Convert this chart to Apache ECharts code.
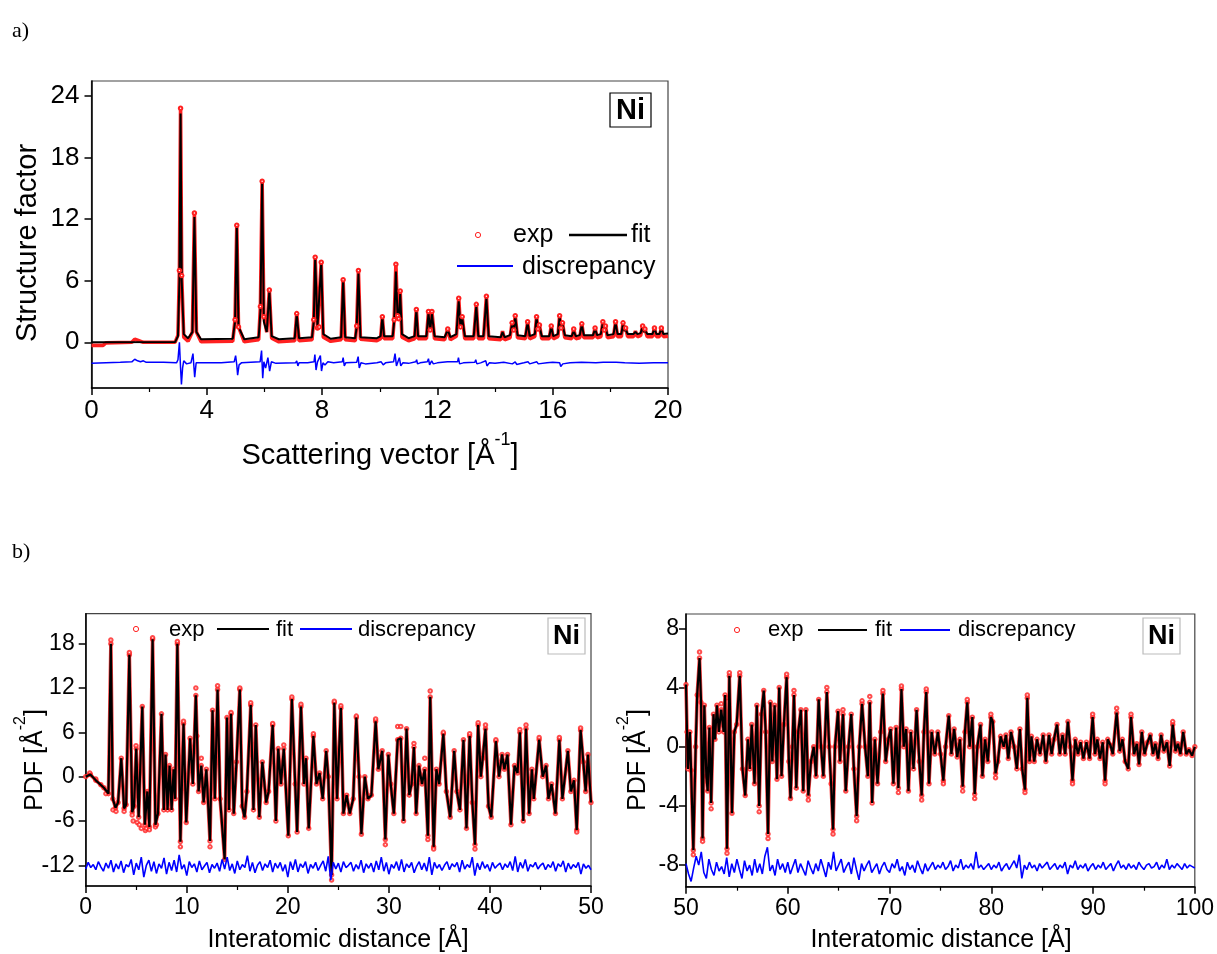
<!DOCTYPE html>
<html><head><meta charset="utf-8">
<script src="https://cdn.jsdelivr.net/npm/echarts@6/dist/echarts.min.js"></script>
<style>html,body{margin:0;padding:0;background:#fff}#c{width:1217px;height:954px}</style>
</head><body><div id="c"></div>
<script>
const FONT = "'Liberation Sans', Arial, sans-serif";

// ---------- Panel a: structure factor ----------
const sqTicksX = [0, 20, 4];
const sqTicksY = [0, 6, 12, 18, 24];
const sqFit = [[0,0],[2.9,0.02],[3.0,0.6],[3.05,6],[3.09,22.3],[3.13,6],[3.2,0.8],[3.35,0.4],[3.5,1.0],[3.57,12.2],[3.64,1.0],[3.8,0.3],[4.9,0.35],[4.98,2],[5.04,11.5],[5.1,1.5],[5.3,0.3],[5.8,0.5],[5.86,3],[5.92,15.8],[5.98,2],[6.08,1],[6.17,5.0],[6.25,0.6],[6.5,0.3],[7.05,0.4],[7.12,2.7],[7.2,0.4],[7.65,0.5],[7.71,2],[7.76,8.2],[7.84,1.5],[7.9,1.5],[7.97,7.7],[8.04,0.8],[8.3,0.35],[8.66,0.5],[8.73,6.0],[8.8,0.5],[9.15,0.4],[9.2,1.5],[9.26,6.7],[9.33,0.5],[9.9,0.4],[10.03,0.6],[10.09,2.4],[10.15,0.6],[10.45,0.6],[10.5,2],[10.56,6.9],[10.62,2.5],[10.66,2.2],[10.71,4.7],[10.77,0.8],[11.0,0.4],[11.21,0.6],[11.27,3.1],[11.33,0.6],[11.62,0.6],[11.69,2.8],[11.75,1.2],[11.81,2.75],[11.9,0.6],[12.25,0.5],[12.36,1.2],[12.45,0.5],[12.66,0.8],[12.74,4.0],[12.8,1.5],[12.86,2.4],[12.95,0.6],[13.26,0.6],[13.35,3.5],[13.42,0.6],[13.6,0.6],[13.7,4.3],[13.78,0.6],[14.2,0.5],[14.26,1.0],[14.33,0.5],[14.52,0.7],[14.59,1.8],[14.65,1.2],[14.7,2.5],[14.78,0.7],[15.05,0.6],[15.13,1.9],[15.2,0.6],[15.38,0.8],[15.44,2.4],[15.49,1.3],[15.54,1.6],[15.62,0.6],[15.88,0.6],[15.95,1.5],[16.02,0.6],[16.18,0.8],[16.24,2.5],[16.29,1.4],[16.34,1.8],[16.42,0.7],[16.66,0.6],[16.73,1.1],[16.8,0.6],[16.94,0.7],[17.01,1.7],[17.08,0.7],[17.4,0.7],[17.47,1.3],[17.54,0.7],[17.67,0.8],[17.74,1.9],[17.79,1.2],[17.83,1.5],[17.9,0.7],[18.11,0.8],[18.18,1.9],[18.25,0.8],[18.38,0.8],[18.44,1.8],[18.49,1.1],[18.53,1.3],[18.6,0.8],[18.8,0.8],[18.87,1.0],[18.94,0.8],[19.05,0.9],[19.12,1.55],[19.16,1.0],[19.2,1.2],[19.28,0.8],[19.46,0.8],[19.53,1.35],[19.6,0.8],[19.7,0.8],[19.77,1.35],[19.84,0.8],[20,0.85]];
const sqExp = [[0,-0.3],[0.4,-0.3],[0.5,-0.05],[1.4,0.0],[1.5,0.3],[1.6,0.2],[1.8,0.0],[2.9,0.0],[3.0,0.7],[3.05,7],[3.09,22.8],[3.13,6.5],[3.2,0.5],[3.35,0.1],[3.5,1.0],[3.57,12.6],[3.64,1.0],[3.8,0.05],[4.9,0.1],[4.98,2.2],[5.04,11.4],[5.1,1.5],[5.3,0.05],[5.8,0.25],[5.86,3.5],[5.92,15.7],[5.98,2.5],[6.08,1.0],[6.17,5.1],[6.25,0.4],[6.5,0.05],[7.05,0.15],[7.12,2.8],[7.2,0.15],[7.65,0.25],[7.71,2.2],[7.76,8.3],[7.84,1.4],[7.9,1.5],[7.97,7.8],[8.04,0.5],[8.3,0.1],[8.66,0.25],[8.73,6.1],[8.8,0.25],[9.15,0.15],[9.2,1.6],[9.26,7.0],[9.33,0.3],[9.9,0.15],[10.03,0.35],[10.09,2.5],[10.15,0.35],[10.45,0.35],[10.5,2.2],[10.56,7.6],[10.62,2.6],[10.66,2.3],[10.71,5.0],[10.77,0.5],[11.0,0.15],[11.21,0.35],[11.27,3.2],[11.33,0.35],[11.62,0.35],[11.69,3.0],[11.75,1.2],[11.81,3.0],[11.9,0.35],[12.25,0.25],[12.36,1.3],[12.45,0.25],[12.66,0.6],[12.74,4.3],[12.8,1.5],[12.86,2.5],[12.95,0.35],[13.26,0.35],[13.35,3.7],[13.42,0.35],[13.6,0.35],[13.7,4.5],[13.78,0.35],[14.2,0.25],[14.26,1.1],[14.33,0.25],[14.52,0.45],[14.59,1.9],[14.65,1.2],[14.7,2.6],[14.78,0.45],[15.05,0.35],[15.13,2.0],[15.2,0.35],[15.38,0.55],[15.44,2.5],[15.49,1.3],[15.54,1.7],[15.62,0.35],[15.88,0.35],[15.95,1.6],[16.02,0.35],[16.18,0.55],[16.24,2.6],[16.29,1.4],[16.34,1.9],[16.42,0.45],[16.66,0.35],[16.73,1.3],[16.8,0.35],[16.94,0.45],[17.01,1.8],[17.08,0.45],[17.4,0.45],[17.47,1.4],[17.54,0.45],[17.67,0.55],[17.74,2.0],[17.79,1.2],[17.83,1.6],[17.9,0.45],[18.11,0.55],[18.18,2.0],[18.25,0.55],[18.38,0.55],[18.44,1.9],[18.49,1.1],[18.53,1.4],[18.6,0.55],[18.8,0.55],[18.87,1.1],[18.94,0.55],[19.05,0.65],[19.12,1.6],[19.16,1.0],[19.2,1.3],[19.28,0.55],[19.46,0.55],[19.53,1.4],[19.6,0.55],[19.7,0.55],[19.77,1.4],[19.84,0.55],[20,0.6]];
const sqDisc = [[0,-2.05],[0.5,-2.0],[1.0,-1.95],[1.4,-1.9],[1.5,-1.65],[1.6,-1.8],[1.7,-1.9],[1.8,-1.8],[1.9,-1.95],[2.5,-1.95],[2.95,-2.0],[3.0,-1.7],[3.05,0],[3.09,-2.5],[3.12,-4.1],[3.16,-2.5],[3.2,-1.8],[3.3,-2.1],[3.45,-2.0],[3.52,-1.1],[3.58,-3.4],[3.63,-2.0],[3.8,-2.0],[4.5,-2.0],[4.95,-1.9],[5.0,-1.3],[5.04,-2.2],[5.07,-3.2],[5.12,-2.2],[5.2,-2.0],[5.85,-1.9],[5.9,-0.8],[5.94,-3.5],[5.98,-1.9],[6.04,-2.5],[6.12,-1.5],[6.18,-2.8],[6.24,-1.9],[6.4,-2.05],[7.08,-2.0],[7.12,-1.8],[7.16,-2.3],[7.2,-2.0],[7.5,-2.0],[7.72,-1.9],[7.75,-1.2],[7.79,-2.7],[7.84,-1.9],[7.94,-1.3],[7.98,-2.8],[8.03,-2.0],[8.1,-2.2],[8.2,-1.9],[8.4,-2.0],[8.7,-1.9],[8.73,-1.5],[8.77,-2.3],[8.82,-2.0],[9.2,-1.95],[9.25,-1.4],[9.29,-2.5],[9.35,-2.0],[9.5,-2.1],[9.9,-2.0],[10.05,-1.9],[10.08,-1.8],[10.12,-2.2],[10.2,-2.0],[10.48,-1.9],[10.53,-1.1],[10.58,-2.3],[10.63,-1.9],[10.68,-1.5],[10.73,-2.3],[10.8,-2.0],[11.0,-2.05],[11.25,-1.9],[11.28,-1.7],[11.31,-2.1],[11.4,-2.0],[11.65,-1.9],[11.69,-1.6],[11.73,-2.2],[11.8,-1.8],[11.86,-2.1],[12.0,-2.0],[12.35,-1.9],[12.4,-2.05],[12.7,-1.9],[12.73,-1.5],[12.77,-2.1],[12.9,-2.0],[13.3,-1.95],[13.33,-1.7],[13.37,-2.1],[13.5,-2.0],[13.68,-1.8],[13.72,-2.3],[13.8,-2.0],[14.0,-2.05],[14.3,-1.95],[14.6,-2.1],[14.7,-1.9],[14.75,-2.15],[15.0,-2.0],[15.15,-1.9],[15.2,-2.1],[15.45,-1.9],[15.5,-2.1],[15.8,-2.0],[16.0,-1.95],[16.24,-2.0],[16.28,-2.35],[16.35,-2.1],[16.6,-2.0],[17.0,-1.95],[17.05,-2.1],[17.5,-2.0],[17.75,-1.95],[17.8,-2.1],[18.2,-1.95],[18.25,-2.1],[18.5,-2.0],[19.0,-2.05],[19.5,-2.0],[20,-2.0]];

// ---------- Panel b (left): PDF 0-50 ----------
const pdfLTicksY = [-12, -6, 0, 6, 12, 18];
const pdfLFit = [[0,0],[0.46,0.3],[1.0,-0.5],[1.8,-1.5],[2.25,-2.3],[2.49,18],[2.68,-3],[2.95,-4.2],[3.2,-3.5],[3.52,2.5],[3.8,-4.3],[4.0,-3.8],[4.32,16.5],[4.6,-4.8],[4.78,-4],[5.0,3.8],[5.24,-5.5],[5.6,9.5],[5.85,-6.5],[6.1,-2],[6.3,-6.8],[6.62,18.6],[6.9,-6.5],[7.15,-5],[7.5,8.5],[7.73,-4.5],[7.9,3],[8.1,-4.5],[8.3,1.5],[8.5,-4.5],[8.7,1],[8.85,-3],[9.07,18],[9.37,-8.8],[9.68,7.2],[9.95,-6.2],[10.33,5.2],[10.6,-1],[10.9,11],[11.17,-2],[11.44,1.5],[11.67,-3.5],[11.94,1],[12.3,-8.7],[12.55,9],[12.78,-3],[13.05,11.8],[13.3,-3],[13.75,-11.2],[13.98,8],[14.18,-4.5],[14.38,8.5],[14.65,-5],[14.92,2],[15.25,11.8],[15.49,-4],[15.72,-5.5],[15.95,-2],[16.33,9.7],[16.6,-4.5],[16.83,7],[17.18,-5.5],[17.48,2],[17.86,-3.5],[18.1,-2],[18.5,7],[18.82,-6],[19.05,3.8],[19.32,-1],[19.6,3.8],[20.05,-8],[20.4,10.5],[20.73,-1],[20.92,-7.5],[21.3,9.5],[21.6,-1],[21.8,2.5],[22.07,-7],[22.53,5.5],[22.84,-1],[23.14,0.5],[23.45,-3],[23.8,3.5],[24.0,0],[24.33,-13.3],[24.6,10],[24.87,-3],[25.25,9.3],[25.5,-5],[25.82,-2.5],[26.13,-5],[26.47,-3],[26.78,8],[27.05,0],[27.28,-7.8],[27.62,0],[27.93,-3],[28.27,-2.5],[28.69,7.5],[28.96,1],[29.34,3.5],[29.65,-8.5],[29.95,3],[30.18,-1],[30.49,-5],[30.87,5],[31.18,5.2],[31.45,-6],[31.75,6.5],[32.02,-2.5],[32.25,-1],[32.48,4],[32.7,-5],[32.98,1.5],[33.28,-1],[33.55,1],[33.86,-8],[34.09,10.8],[34.43,-9.5],[34.7,1],[34.97,-1],[35.39,5.8],[35.69,-2],[36.07,-5.5],[36.46,3.5],[36.73,-2],[37.03,-4.5],[37.38,5],[37.68,-7],[37.99,5.5],[38.26,-3.5],[38.52,-9.2],[38.83,7],[39.1,0],[39.29,2.5],[39.56,6.5],[39.86,-4],[40.13,-5.5],[40.59,4.8],[40.9,0],[41.2,3],[41.43,1],[41.74,3],[42.08,-6.5],[42.43,1.5],[42.73,0.5],[42.96,6],[43.3,-6],[43.57,6.5],[43.88,-5],[44.15,1],[44.34,-3],[44.87,5],[45.22,0],[45.56,1.5],[45.79,-3],[46.1,-1],[46.48,-5],[46.87,5],[47.17,-3],[47.71,3.5],[48.01,-2],[48.32,-0.5],[48.59,-7.2],[48.97,6.3],[49.24,2],[49.47,-2],[49.7,3],[50,-3.5]];
const pdfLExpExtra = [[0.4,0.5],[1.0,-0.3],[1.5,-1.1],[2.0,-2.3],[2.49,18.5],[2.7,-4.5],[3.0,-4.7],[3.8,-4.7],[4.32,16.8],[4.6,-5.2],[4.7,-6],[4.98,4.2],[5.1,-6.2],[5.3,-6.5],[5.5,-7],[5.9,-7.3],[6.0,-7],[6.3,-7.2],[6.62,18.8],[6.9,-6.8],[7.0,-6.5],[9.07,18.3],[9.37,-9.5],[9.68,7.5],[10.9,12],[11.0,5.5],[11.44,2.5],[12.3,-9.5],[13.05,12.3],[14.38,8.7],[15.25,12],[16.33,10],[18.5,7.2],[19.6,4.3],[20.4,10.8],[21.3,9.8],[22.53,5.8],[24.33,-14],[24.6,10.2],[25.25,9.6],[26.78,8.2],[28.69,7.8],[29.65,-9.2],[30.87,6.8],[31.18,6.8],[32.48,4.5],[33.55,2.5],[33.86,-8.5],[34.09,11.6],[34.43,-9.8],[35.39,6],[37.99,5.8],[38.52,-9.8],[38.83,7.3],[39.56,7],[40.59,5],[42.96,6.4],[43.57,7],[44.87,5.3],[46.87,5.3],[48.59,-7.5],[48.97,6.6]];
const pdfLDiscStart = 0, pdfLDiscStep = 0.25;
const pdfLDisc = [-12.5,-11.6,-12.3,-11.9,-12.6,-11.5,-12.2,-12.8,-11.7,-12.4,-11.3,-12.9,-11.8,-12.5,-11.4,-13.0,-11.9,-12.2,-11.2,-13.3,
-11.7,-12.6,-10.9,-13.6,-12.0,-11.3,-12.8,-11.5,-13.1,-11.8,-12.4,-11.0,-13.2,-11.6,-12.7,-11.3,-12.9,-10.6,-12.5,-11.9,
-13.4,-11.5,-12.3,-11.8,-12.9,-11.4,-12.6,-12.1,-11.6,-13.0,-11.9,-12.4,-11.7,-12.8,-11.2,-12.5,-10.9,-12.7,-11.8,-13.1,
-11.4,-12.6,-11.9,-12.3,-10.7,-12.8,-11.6,-13.0,-12.0,-11.5,-12.7,-11.8,-12.3,-11.3,-12.9,-11.7,-12.4,-11.6,-12.8,-11.9,
-13.6,-11.5,-12.6,-11.2,-12.9,-11.8,-12.3,-11.5,-13.1,-11.9,-12.4,-11.6,-12.7,-12.0,-11.4,-12.8,-10.8,-14.0,-11.6,-12.5,
-11.7,-12.9,-11.5,-12.3,-12.0,-11.6,-12.8,-11.9,-12.5,-11.3,-13.0,-11.8,-12.4,-11.7,-12.9,-11.4,-12.6,-10.9,-12.8,-11.6,
-13.2,-11.9,-12.4,-11.5,-12.7,-11.2,-12.9,-11.8,-12.3,-11.6,-13.0,-12.1,-11.5,-12.6,-11.7,-12.8,-10.9,-13.3,-11.6,-12.4,
-11.9,-12.7,-12.0,-11.5,-12.6,-11.8,-12.2,-11.6,-12.9,-11.3,-12.5,-11.9,-12.3,-10.9,-13.4,-11.7,-12.6,-11.5,-12.4,-11.9,
-12.8,-11.6,-12.4,-12.0,-11.7,-12.6,-11.8,-12.3,-11.5,-12.7,-10.8,-12.9,-11.6,-12.4,-11.2,-12.8,-11.9,-12.2,-11.6,-12.5,
-12.0,-11.7,-12.6,-11.9,-12.3,-11.5,-12.8,-11.8,-12.2,-11.4,-12.9,-11.7,-12.5,-11.9,-12.3,-11.6,-13.2,-11.8,-12.4,-12.0,
-12.6];

// ---------- Panel b (right): PDF 50-100 ----------
const pdfRTicksY = [-8, -4, 0, 4, 8];
const pdfRFit = [[50,4.2],[50.1,1],[50.2,-1.5],[50.38,1],[50.5,-1.6],[50.72,-7],[50.95,0],[51.1,3.5],[51.33,6],[51.48,3],[51.63,-6.2],[51.8,2.8],[52.0,-2],[52.13,-3],[52.3,1.3],[52.47,-3.8],[52.7,2.2],[52.85,0.5],[53.04,2.8],[53.23,1],[53.46,2.5],[53.7,1],[53.84,3.5],[54.03,-6.9],[54.26,4.8],[54.52,-4.5],[54.75,1],[54.98,1.5],[55.28,4.8],[55.55,-1.5],[55.82,-3.3],[56.08,0.5],[56.27,-1.5],[56.46,1.5],[56.73,-2.5],[56.96,2.8],[57.19,-4],[57.42,2.2],[57.64,3.8],[57.83,1],[58.06,-5.9],[58.29,3],[58.48,-1],[58.71,2.8],[58.94,-2.2],[59.16,4],[59.39,-2],[59.62,1.5],[59.89,4.7],[60.11,-1],[60.27,-3.5],[60.46,0],[60.61,3.5],[60.84,-2.8],[61.03,1],[61.29,2.5],[61.52,-3],[61.79,2.5],[62.02,-3.3],[62.28,-1],[62.55,0],[62.78,-2],[63.04,3.2],[63.27,0],[63.5,-2],[63.84,3.7],[64.07,0],[64.26,-2.5],[64.45,-5.6],[64.64,0],[64.94,2.4],[65.13,-1],[65.43,2.2],[65.7,-3],[65.97,0],[66.24,2.2],[66.5,-1.5],[66.77,-4.7],[67.03,0],[67.3,2.9],[67.6,0],[67.87,-2],[68.06,3],[68.29,-3.8],[68.56,0.5],[68.82,-2.5],[69.13,1],[69.35,3.6],[69.62,-1],[69.89,0.5],[70.11,1.2],[70.38,-2.5],[70.65,1.3],[70.87,-2.8],[71.17,3.9],[71.4,0],[71.63,1.2],[71.86,-3],[72.09,1],[72.36,-1.5],[72.66,2.5],[72.93,-1],[73.16,-3.3],[73.38,1],[73.61,3.7],[73.88,-2.5],[74.14,1],[74.45,-0.5],[74.75,1],[75.02,-0.5],[75.29,-2.3],[75.51,0],[75.82,2.1],[76.08,-0.5],[76.35,1.2],[76.65,-0.7],[76.92,0.5],[77.19,-2.7],[77.41,1],[77.64,3],[77.87,0],[78.14,2],[78.37,-3.2],[78.63,0],[78.94,1.5],[79.13,-2],[79.39,0.5],[79.66,-1],[79.96,2],[80.15,1.7],[80.42,-1.8],[80.65,-1],[80.91,0.7],[81.22,0],[81.44,0.8],[81.67,-0.8],[81.94,1],[82.24,0],[82.51,-1.5],[82.81,1.2],[83.04,-1.5],[83.31,-2.9],[83.54,3.3],[83.76,-1],[83.95,0.7],[84.22,-1],[84.49,0.5],[84.79,-0.5],[85.1,0.8],[85.36,-1],[85.67,0.8],[85.93,-0.5],[86.16,0.5],[86.46,1.5],[86.73,-0.5],[87.0,0.8],[87.26,-0.5],[87.53,1.7],[87.76,0],[87.98,-2.3],[88.25,0.5],[88.52,-0.5],[88.78,0.3],[89.05,-0.8],[89.35,0.3],[89.66,-0.8],[89.96,2],[90.19,-0.5],[90.42,0.5],[90.68,-0.8],[90.95,0.3],[91.18,-2.3],[91.44,0.5],[91.71,0.1],[91.94,-0.5],[92.32,2.3],[92.62,-0.3],[92.89,0.5],[93.16,-1],[93.46,-1.5],[93.73,2],[94.03,-0.5],[94.3,0.2],[94.52,-1.2],[94.79,1],[95.06,-0.5],[95.36,0.3],[95.63,0.8],[95.89,-0.5],[96.12,0.2],[96.39,-0.8],[96.69,0.8],[96.96,-0.3],[97.26,0.3],[97.53,-1.3],[97.83,1.5],[98.1,-0.3],[98.33,0.2],[98.59,-0.5],[98.86,1],[99.16,-0.5],[99.43,-0.2],[99.73,-0.6],[100,0]];
const pdfRExpExtra = [[50.72,-7.3],[51.33,6.4],[51.63,-6.4],[52.47,-4.2],[53.46,2.9],[54.0,3.3],[54.03,-7.2],[54.26,5.0],[55.28,5.0],[57.19,-4.4],[58.06,-6.2],[59.89,4.9],[60.61,3.8],[62.02,-3.6],[63.84,4.0],[64.45,-5.9],[65.43,2.5],[66.77,-5],[67.3,3.1],[68.06,3.4],[69.35,3.8],[70.87,-3.1],[71.17,4.1],[73.16,-3.6],[73.61,3.9],[75.29,-2.5],[77.19,-3],[77.64,3.2],[78.37,-3.5],[79.96,2.2],[80.42,-2.1],[83.31,-3.1],[83.54,3.5],[87.98,-2.5],[89.96,2.2],[91.18,-2.5],[92.32,2.6],[93.73,2.2],[97.83,1.7]];
const pdfRDiscStart = 50, pdfRDiscStep = 0.25;
const pdfRDisc = [-7.9,-8.6,-9.1,-8.2,-7.4,-8.0,-7.1,-8.5,-8.9,-7.6,-8.3,-8.7,-7.8,-8.4,-8.1,-8.6,-7.5,-8.8,-7.9,-8.5,
-7.6,-8.3,-8.9,-7.7,-8.4,-8.0,-8.7,-7.6,-8.5,-7.9,-8.6,-7.4,-6.8,-8.4,-8.0,-8.7,-7.6,-8.3,-7.9,-8.5,
-7.8,-8.6,-8.1,-7.6,-8.5,-7.9,-8.3,-8.7,-7.7,-8.2,-8.6,-7.9,-8.4,-7.6,-8.2,-8.8,-7.8,-8.3,-7.1,-8.4,
-8.0,-7.6,-8.5,-8.1,-7.8,-8.6,-7.5,-8.3,-9.0,-7.9,-8.4,-8.0,-7.7,-8.5,-8.2,-7.9,-8.6,-8.1,-7.8,-8.3,
-8.5,-7.9,-8.2,-7.6,-8.4,-8.1,-8.7,-7.8,-8.3,-8.0,-8.5,-7.7,-8.2,-8.6,-7.9,-8.4,-8.1,-7.8,-8.3,-8.0,
-8.2,-7.8,-8.3,-8.1,-7.7,-8.4,-8.0,-8.2,-7.6,-8.3,-8.0,-8.2,-7.9,-8.3,-7.1,-8.2,-8.0,-8.3,-8.1,-7.9,
-8.3,-8.0,-8.2,-7.8,-8.4,-8.1,-7.9,-8.3,-8.0,-7.7,-8.2,-7.3,-8.9,-8.0,-8.3,-7.8,-8.2,-8.0,-8.4,-7.9,
-8.2,-8.0,-7.8,-8.3,-8.1,-7.9,-8.3,-8.0,-8.2,-7.8,-8.6,-8.0,-8.2,-7.7,-8.3,-8.0,-8.2,-7.9,-8.4,-8.1,
-7.9,-8.3,-8.0,-8.2,-7.8,-8.3,-8.1,-7.9,-8.4,-8.0,-7.7,-8.2,-8.0,-8.3,-7.9,-8.2,-8.0,-8.3,-7.8,-8.1,
-8.3,-8.0,-7.9,-8.2,-8.1,-7.8,-8.3,-8.0,-8.2,-7.6,-8.3,-8.0,-8.2,-7.9,-8.1,-8.3,-7.9,-8.2,-8.0,-8.1,
-8.2];

// ---------- build ----------
function seq(start, step, arr) { return arr.map((v, i) => [start + i * step, v]); }
const RED = '#ff2020', BLUE = '#0000ff';

function xAxis(gi, min, max, interval, fs) {
  return { type: 'value', gridIndex: gi, min: min, max: max, interval: interval,
    axisLine: { show: true, onZero: false, lineStyle: { color: '#000', width: 1.5 } },
    axisTick: { show: true, inside: false, length: 7, lineStyle: { color: '#000', width: 1.5 } },
    minorTick: { show: true, splitNumber: 2, length: 4, lineStyle: { color: '#000', width: 1.2 } },
    axisLabel: { fontSize: fs, fontFamily: FONT, color: '#000', margin: 10 },
    splitLine: { show: false } };
}
function yAxis(gi, min, max, vals, fs, margin) {
  return { type: 'value', gridIndex: gi, min: min, max: max,
    axisLine: { show: true, onZero: false, lineStyle: { color: '#000', width: 1.5 } },
    axisTick: { show: true, inside: false, length: 7, customValues: vals, lineStyle: { color: '#000', width: 1.5 } },
    axisLabel: { fontSize: fs, fontFamily: FONT, color: '#000', margin: margin, customValues: vals },
    splitLine: { show: false } };
}
function txt(x, y, text, fs, opts) {
  opts = opts || {};
  return { type: 'text', x: x, y: y, z: 100, rotation: opts.rotation || 0,
    style: { text: text, fontSize: fs, fontFamily: opts.family || FONT, fontWeight: opts.weight || 'normal',
      fill: '#000', align: opts.align || 'left', verticalAlign: 'middle',
      textAlign: opts.align || 'left', textVerticalAlign: 'middle', rich: opts.rich } };
}
function seg(x1, x2, y, color, w) {
  return { type: 'line', z: 100, shape: { x1: x1, y1: y, x2: x2, y2: y }, style: { stroke: color, lineWidth: w } };
}
function dot(cx, cy) {
  return { type: 'circle', z: 100, shape: { cx: cx, cy: cy, r: 2.6 }, style: { stroke: RED, fill: 'transparent', lineWidth: 1 } };
}
function box(x, y, w, h, stroke, fs) {
  return [{ type: 'rect', z: 99, shape: { x: x, y: y, width: w, height: h }, style: { fill: '#fff', stroke: stroke, lineWidth: 1.2 } },
    txt(x + w / 2, y + h / 2 + 1, 'Ni', fs, { weight: 'bold', align: 'center' })];
}
function supRich(fs, sfs) {
  return { n: { fontSize: fs, fontFamily: FONT, lineHeight: fs + 10, verticalAlign: 'bottom' },
           s: { fontSize: sfs, fontFamily: FONT, lineHeight: sfs, verticalAlign: 'top' } };
}
function pdfSeries(ai, fit, extra, disc) {
  return [
    { name: 'exp', type: 'line', xAxisIndex: ai, yAxisIndex: ai, data: fit, showSymbol: false, silent: true,
      lineStyle: { color: RED, width: 3.6, opacity: 0.85 } },
    { name: 'exp', type: 'scatter', xAxisIndex: ai, yAxisIndex: ai, data: fit.concat(extra), silent: true,
      symbol: 'emptyCircle', symbolSize: 3.5, itemStyle: { color: RED, borderColor: RED, borderWidth: 0.8 } },
    { name: 'fit', type: 'line', xAxisIndex: ai, yAxisIndex: ai, data: fit, showSymbol: false, silent: true,
      lineStyle: { color: '#000', width: 2.2 } },
    { name: 'discrepancy', type: 'line', xAxisIndex: ai, yAxisIndex: ai, data: disc, showSymbol: false, silent: true,
      lineStyle: { color: BLUE, width: 1.6 } }
  ];
}

const option = {
  animation: false,
  backgroundColor: '#fff',
  grid: [
    { left: 91.5, top: 81, width: 576.5, height: 307, show: true, borderColor: '#444', borderWidth: 1.2 },
    { left: 85.7, top: 613.7, width: 505.3, height: 272.3, show: true, borderColor: '#444', borderWidth: 1.2 },
    { left: 686, top: 614, width: 510, height: 272.7, show: true, borderColor: '#444', borderWidth: 1.2 }
  ],
  xAxis: [ xAxis(0, sqTicksX[0], sqTicksX[1], sqTicksX[2], 26), xAxis(1, 0, 50, 10, 23), xAxis(2, 50, 100, 10, 23) ],
  yAxis: [ yAxis(0, -4.45, 25.46, sqTicksY, 26, 12), yAxis(1, -14.8, 22.06, pdfLTicksY, 23, 11), yAxis(2, -9.46, 8.97, pdfRTicksY, 23, 7) ],
  series: [
    { name: 'exp', type: 'line', xAxisIndex: 0, yAxisIndex: 0, data: sqExp, silent: true,
      lineStyle: { color: RED, width: 3.6 }, symbol: 'emptyCircle',
      symbolSize: function (v) { return v[1] > 1.1 ? 3.5 : 0; }, showSymbol: true, showAllSymbol: true,
      itemStyle: { color: RED, borderColor: RED, borderWidth: 0.9 } },
    { name: 'fit', type: 'line', xAxisIndex: 0, yAxisIndex: 0, data: sqFit, showSymbol: false, silent: true,
      lineStyle: { color: '#000', width: 2 } },
    { name: 'discrepancy', type: 'line', xAxisIndex: 0, yAxisIndex: 0, data: sqDisc, showSymbol: false, silent: true,
      lineStyle: { color: BLUE, width: 1.5 } }
  ].concat(
    pdfSeries(1, pdfLFit, pdfLExpExtra, seq(pdfLDiscStart, pdfLDiscStep, pdfLDisc)),
    pdfSeries(2, pdfRFit, pdfRExpExtra, seq(pdfRDiscStart, pdfRDiscStep, pdfRDisc))
  ),
  graphic: [].concat(
    [ txt(12, 31, 'a)', 22, { family: "'Liberation Serif', 'Times New Roman', serif" }),
      txt(12, 552, 'b)', 22, { family: "'Liberation Serif', 'Times New Roman', serif" }) ],
    [ dot(478, 235), txt(513, 235, 'exp', 25), seg(569, 627, 235, '#000', 2.5), txt(631, 235, 'fit', 25),
      seg(457, 513, 266, BLUE, 2), txt(522, 267, 'discrepancy', 25) ],
    box(610, 93, 41, 34, '#000', 29),
    [ txt(28, 243, 'Structure factor', 29, { align: 'center', rotation: Math.PI / 2 }),
      txt(380, 451, '{n|Scattering vector [Å}{s|-1}{n|]}', 29, { align: 'center', rich: supRich(29, 18) }),
      txt(30, 760, '{n|PDF [Å}{s|-2}{n|]}', 25, { align: 'center', rotation: Math.PI / 2, rich: supRich(25, 16) }),
      txt(338, 940, 'Interatomic distance [Å]', 25, { align: 'center' }),
      txt(633, 760, '{n|PDF [Å}{s|-2}{n|]}', 25, { align: 'center', rotation: Math.PI / 2, rich: supRich(25, 16) }),
      txt(941, 940, 'Interatomic distance [Å]', 25, { align: 'center' }) ],
    [ dot(136, 629), txt(169, 630, 'exp', 22), seg(217, 269, 629, '#000', 2), txt(276, 630, 'fit', 22),
      seg(300, 352, 629, BLUE, 2), txt(358, 630, 'discrepancy', 22) ],
    box(548, 618, 37, 36, '#bbb', 27),
    [ dot(737, 630), txt(768, 630, 'exp', 22), seg(818, 867, 630, '#000', 2), txt(875, 630, 'fit', 22),
      seg(900, 950, 630, BLUE, 2), txt(958, 630, 'discrepancy', 22) ],
    box(1143, 618, 37, 36, '#bbb', 27)
  )
};
const chart = echarts.init(document.getElementById('c'));
chart.setOption(option);
</script>
</body></html>
